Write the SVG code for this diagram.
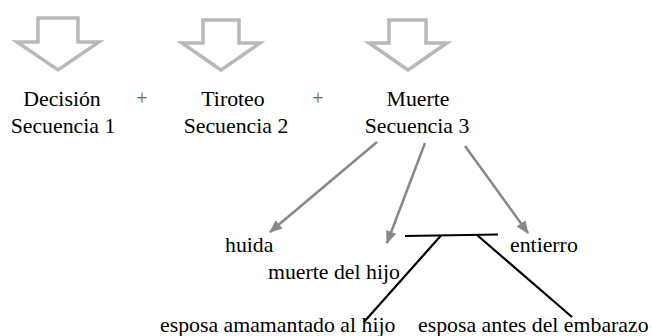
<svg xmlns="http://www.w3.org/2000/svg" width="652" height="336" viewBox="0 0 652 336">
<defs>
<style>
.t{font-family:"Liberation Serif","Times New Roman",serif;font-size:21.8px;fill:#000}
.m{text-anchor:middle}
.plus{font-family:"Liberation Serif",serif;font-size:20px;fill:#666;text-anchor:middle}
.big{fill:#fff;stroke:#b9b9b9;stroke-width:3.5;stroke-linejoin:miter}
.g{stroke:#888;stroke-width:2.5;fill:none}
.k{stroke:#000;stroke-width:2.2;fill:none}
</style>
<marker id="ah" viewBox="0 0 12 10" refX="11" refY="5" markerWidth="13" markerHeight="11" markerUnits="userSpaceOnUse" orient="auto">
<path d="M0,0 L12,5 L0,10 Z" fill="#888"/>
</marker>
</defs>
<rect width="652" height="336" fill="#fff"/>
<g id="arrow1"><path class="big" d="M38,18 L78,18 L78,42 L99,42 L58,70 L17,42 L38,42 Z"/></g>
<g id="arrow2"><path class="big" d="M203,20 L239,20 L239,43 L260,43 L221,70 L182,43 L203,43 Z"/></g>
<g id="arrow3"><path class="big" d="M389,20 L426,20 L426,43 L447,43 L408,70 L369,43 L389,43 Z"/></g>
<g id="seq1"><text class="t m" x="62" y="106">Decisión</text><text class="t m" x="63" y="133">Secuencia 1</text></g>
<g id="plus1"><text class="plus" x="142" y="105">+</text></g>
<g id="seq2"><text class="t m" x="233" y="106">Tiroteo</text><text class="t m" x="236" y="133">Secuencia 2</text></g>
<g id="plus2"><text class="plus" x="318" y="105">+</text></g>
<g id="seq3"><text class="t m" x="418" y="106">Muerte</text><text class="t m" x="417" y="133">Secuencia 3</text></g>
<g id="huida"><text class="t" x="225" y="252">huida</text></g>
<g id="muerte"><text class="t" x="268" y="279">muerte del hijo</text></g>
<g id="entierro"><text class="t" x="510" y="252">entierro</text></g>
<g id="esposa1"><text class="t" x="160" y="332">esposa amamantado al hijo</text></g>
<g id="esposa2"><text class="t" x="418" y="332">esposa antes del embarazo</text></g>
<g id="connectors">
<line class="g" x1="377" y1="142" x2="270" y2="232" marker-end="url(#ah)"/>
<line class="g" x1="425" y1="143" x2="387" y2="243" marker-end="url(#ah)"/>
<line class="g" x1="465" y1="146" x2="528" y2="233" marker-end="url(#ah)"/>
<line class="k" x1="405" y1="236" x2="498" y2="234.5"/>
<line class="k" x1="441" y1="235.5" x2="364" y2="322"/>
<line class="k" x1="477" y1="235" x2="572" y2="317"/>
</g>
</svg>
